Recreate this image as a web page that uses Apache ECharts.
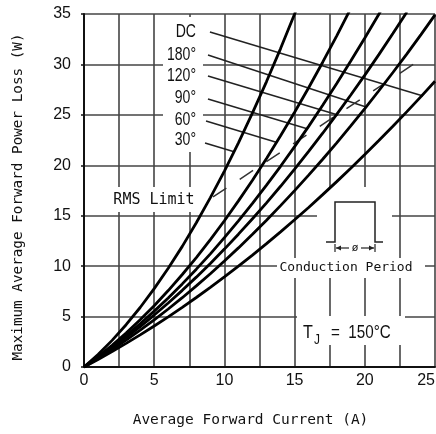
<!DOCTYPE html>
<html lang="en">
<head>
<meta charset="UTF-8">
<title>Maximum Average Forward Power Loss</title>
<script src="https://cdn.jsdelivr.net/npm/echarts@6/dist/echarts.min.js"></script>
<style>
  html, body { margin: 0; padding: 0; background: #fff; }
  #chart { width: 436px; height: 434px; }
</style>
</head>
<body>
<div id="chart"></div>
<script>
// average forward current (A)
const currentA = [0,1,2,3,4,5,6,7,8,9,10,11,12,13,14,15,16,17,18,19,20,21,22,23,24,25];

// power loss (W) per conduction angle
const loss30  = [0,1.24,2.64,4.19,5.90,7.77,9.79,11.96,14.30,16.79,19.43,22.23,25.19,28.30,31.57,35.00,38.58];
const loss60  = [0,1.03,2.15,3.37,4.68,6.08,7.58,9.17,10.85,12.63,14.50,16.47,18.52,20.68,22.92,25.26,27.69,30.22,32.84,35.55];
const loss90  = [0,0.97,2.01,3.11,4.29,5.54,6.85,8.24,9.70,11.22,12.82,14.49,16.22,18.03,19.90,21.85,23.86,25.95,28.10,30.33,32.62,34.98,37.42];
const loss120 = [0,0.92,1.89,2.92,4.01,5.15,6.35,7.60,8.91,10.27,11.69,13.17,14.70,16.28,17.92,19.62,21.37,23.18,25.05,26.97,28.94,30.97,33.06,35.20];
const loss180 = [0,0.84,1.73,2.67,3.65,4.68,5.75,6.87,8.04,9.25,10.51,11.81,13.16,14.56,16.00,17.49,19.02,20.60,22.23,23.90,25.62,27.39,29.20,31.05,32.96,34.91];
const lossDC  = [0,0.75,1.53,2.34,3.19,4.07,4.97,5.92,6.89,7.89,8.93,10.00,11.10,12.23,13.40,14.60,15.82,17.09,18.38,19.70,21.06,22.45,23.87,25.32,26.81,28.33];

const curveNames = ['DC', '180°', '120°', '90°', '60°', '30°'];
const curveLoss = [lossDC, loss180, loss120, loss90, loss60, loss30];

// leader lines from the labels to each curve (A, W)
const leaderStartA = [8.97, 8.83, 8.83, 8.83, 8.69, 8.62];
const leaderStartW = [33.21, 30.93, 28.85, 26.57, 24.39, 22.21];
const leaderEndA   = [24.15, 20.09, 18.09, 15.95, 13.75, 10.75];
const leaderEndW   = [26.87, 25.78, 24.98, 23.60, 22.26, 21.32];

// RMS limit dashed line
const rmsLimitA = [9.19, 23.93];
const rmsLimitW = [16.86, 30.44];

const xTicks = [0, 5, 10, 15, 20, 25];

const chart = echarts.init(document.getElementById('chart'), null, { renderer: 'canvas' });

const series = [];
curveLoss.forEach((arr, k) => {
  series.push({
    name: curveNames[k],
    type: 'line',
    data: arr.map((p, i) => [currentA[i], p]),
    symbol: 'none',
    clip: true,
    lineStyle: { color: '#000', width: 2.8 },
    z: 3
  });
});
leaderStartA.forEach((a, k) => {
  series.push({
    type: 'line',
    data: [[a, leaderStartW[k]], [leaderEndA[k], leaderEndW[k]]],
    symbol: 'none',
    lineStyle: { color: '#222', width: 1.5 },
    z: 2
  });
});
series.push({
  type: 'line',
  data: rmsLimitA.map((a, i) => [a, rmsLimitW[i]]),
  symbol: 'none',
  lineStyle: { color: '#333', width: 1.5, type: [16, 16] },
  z: 2
});

const monoFont = "'DejaVu Sans Mono', 'Liberation Mono', monospace";
const sansFont = "'Liberation Sans', Arial, sans-serif";
const labelY = [32, 55, 76, 98, 120, 140];

function whiteBox(x, y, w, h) {
  return { type: 'rect', z: 1, shape: { x: x, y: y, width: w, height: h }, style: { fill: '#fff' } };
}

const graphics = [
  whiteBox(163, 17, 40, 135),
  whiteBox(108, 187, 90, 25),
  whiteBox(317, 187, 75, 71),
  whiteBox(277, 258, 148, 20),
  whiteBox(297, 316, 108, 29)
];
curveNames.forEach((n, k) => {
  graphics.push({
    type: 'text', z: 5, x: 196, y: labelY[k], scaleX: 0.78,
    style: { text: n, font: '18px ' + sansFont, fill: '#111', align: 'right', verticalAlign: 'middle' }
  });
});
graphics.push(
  { type: 'text', z: 5, x: 154, y: 200,
    style: { text: 'RMS Limit', font: '15px ' + monoFont, fill: '#111', align: 'center', verticalAlign: 'middle' } },
  { type: 'polyline', z: 5, shape: { points: [[326, 242], [335, 242], [335, 202], [375, 202], [375, 242], [383, 242]] },
    style: { stroke: '#222', lineWidth: 1.5, fill: null } },
  { type: 'line', z: 5, shape: { x1: 335, y1: 244, x2: 335, y2: 252 }, style: { stroke: '#222', lineWidth: 1.2 } },
  { type: 'line', z: 5, shape: { x1: 375, y1: 244, x2: 375, y2: 252 }, style: { stroke: '#222', lineWidth: 1.2 } },
  { type: 'line', z: 5, shape: { x1: 336, y1: 248, x2: 349, y2: 248 }, style: { stroke: '#222', lineWidth: 1.2 } },
  { type: 'line', z: 5, shape: { x1: 361, y1: 248, x2: 374, y2: 248 }, style: { stroke: '#222', lineWidth: 1.2 } },
  { type: 'polygon', z: 5, shape: { points: [[336, 248], [341, 245.5], [341, 250.5]] }, style: { fill: '#222' } },
  { type: 'polygon', z: 5, shape: { points: [[374, 248], [369, 245.5], [369, 250.5]] }, style: { fill: '#222' } },
  { type: 'text', z: 5, x: 355, y: 248,
    style: { text: 'ø', font: '11px ' + monoFont, fill: '#111', align: 'center', verticalAlign: 'middle' } },
  { type: 'text', z: 5, x: 346, y: 268,
    style: { text: 'Conduction Period', font: '13px ' + monoFont, fill: '#111', align: 'center', verticalAlign: 'middle' } },
  { type: 'text', z: 5, x: 303, y: 333, scaleX: 0.85,
    style: { text: 'T', font: '19px ' + sansFont, fill: '#111', align: 'left', verticalAlign: 'middle' } },
  { type: 'text', z: 5, x: 314, y: 340, scaleX: 0.85,
    style: { text: 'J', font: '14px ' + sansFont, fill: '#111', align: 'left', verticalAlign: 'middle' } },
  { type: 'text', z: 5, x: 331, y: 333, scaleX: 0.8,
    style: { text: '=  150°C', font: '19px ' + sansFont, fill: '#111', align: 'left', verticalAlign: 'middle' } }
);

const option = {
  animation: false,
  backgroundColor: '#fff',
  grid: { left: 84, right: 1, top: 14, bottom: 67, containLabel: false, outerBoundsMode: 'none' },
  xAxis: {
    type: 'value', min: 0, max: 25, interval: 2.5,
    name: 'Average Forward Current (A)', nameLocation: 'middle', nameGap: 46,
    nameTextStyle: { fontFamily: "'DejaVu Sans Mono', monospace", fontSize: 14.5, color: '#111', padding: [0, 18, 0, 0] },
    axisLine: { show: true, lineStyle: { color: '#111', width: 2 } },
    axisTick: { show: false },
    splitLine: { show: true, lineStyle: { color: '#444', width: 1.6 } },
    axisLabel: {
      margin: 6, fontSize: 16, color: '#111', fontFamily: 'Liberation Sans',
      showMaxLabel: true, showMinLabel: true, alignMaxLabel: 'right', hideOverlap: false,
      formatter: v => xTicks.indexOf(v) >= 0 ? String(v) : ''
    }
  },
  yAxis: {
    type: 'value', min: 0, max: 35, interval: 5,
    name: 'Maximum Average Forward Power Loss (W)', nameLocation: 'middle', nameGap: 59,
    nameTextStyle: { fontFamily: "'DejaVu Sans Mono', monospace", fontSize: 14.3, color: '#111', padding: [0, 13, 0, 0] },
    axisLine: { show: true, lineStyle: { color: '#111', width: 2 } },
    axisTick: { show: true, length: 3, lineStyle: { color: '#111', width: 1.5 } },
    splitLine: { show: true, lineStyle: { color: '#444', width: 1.6 } },
    axisLabel: { margin: 13, fontSize: 16, color: '#111', fontFamily: 'Liberation Sans', showMaxLabel: true }
  },
  series: series,
  graphic: { elements: graphics }
};

chart.setOption(option);
</script>
</body>
</html>
